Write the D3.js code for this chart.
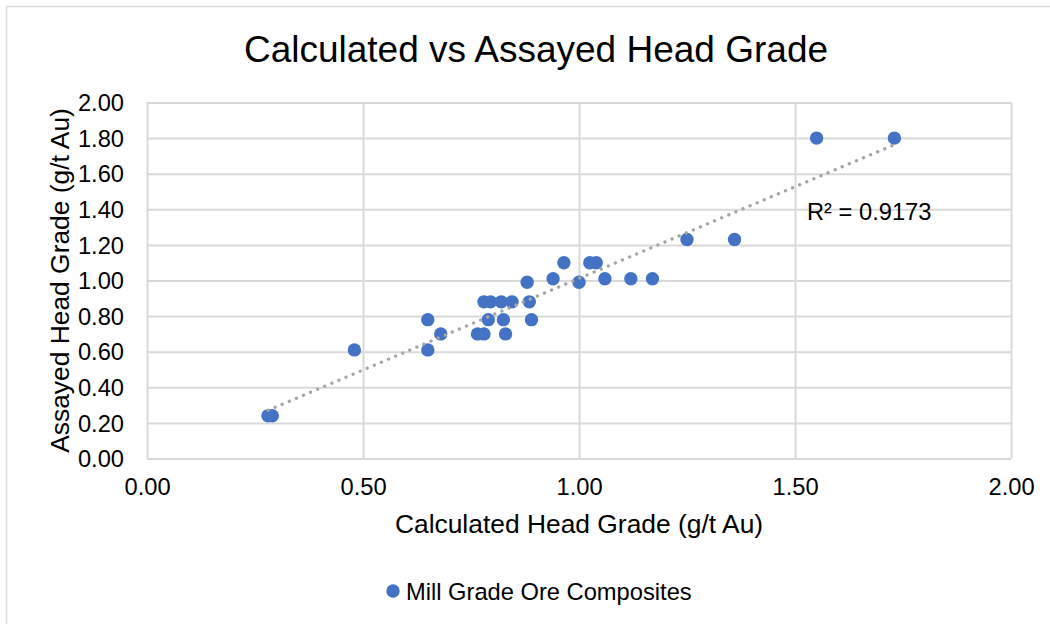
<!DOCTYPE html>
<html>
<head>
<meta charset="utf-8">
<script src="https://cdn.jsdelivr.net/npm/d3@7"></script>
<style>
  html, body { margin: 0; padding: 0; background: #fff; }
  svg { display: block; font-family: Arial, "Liberation Sans", sans-serif; }
</style>
</head>
<body>
<svg id="chart" width="1050" height="624"></svg>
<script>
// Mill grade ore composites: calculated vs assayed head grade (g/t Au)
const calculated = [0.28, 0.29, 0.48, 0.65, 0.65, 0.68, 0.765, 0.78, 0.83, 0.78,
                    0.795, 0.82, 0.845, 0.885, 0.79, 0.825, 0.89, 0.88, 0.94, 0.965,
                    1.00, 1.025, 1.04, 1.06, 1.12, 1.17, 1.25, 1.36, 1.55, 1.73];
const assayed    = [0.24, 0.24, 0.61, 0.78, 0.61, 0.70, 0.70, 0.70, 0.70, 0.88,
                    0.88, 0.88, 0.88, 0.88, 0.78, 0.78, 0.78, 0.99, 1.01, 1.10,
                    0.99, 1.10, 1.10, 1.01, 1.01, 1.01, 1.23, 1.23, 1.80, 1.80];
const xTicks = [0, 0.5, 1.0, 1.5, 2.0];
const yTicks = [0, 0.2, 0.4, 0.6, 0.8, 1.0, 1.2, 1.4, 1.6, 1.8, 2.0];
const seriesName = "Mill Grade Ore Composites";
const rSquaredLabel = "R² = 0.9173";

const svg = d3.select("#chart");
const blue = "#4472C4";
const grid = "#d9d9d9";
const fmt = d3.format(".2f");

// plot area
const plotL = 147, plotR = 1011, plotT = 102.5, plotB = 458.5;
const x = d3.scaleLinear().domain([0, 2]).range([plotL, plotR]);
const y = d3.scaleLinear().domain([0, 2]).range([plotB, plotT]);

// chart frame
svg.append("rect")
  .attr("x", 6.5).attr("y", 6.5).attr("width", 1100).attr("height", 700)
  .attr("fill", "none").attr("stroke", grid).attr("stroke-width", 1.5);

// title
svg.append("text")
  .attr("x", 536).attr("y", 62)
  .attr("text-anchor", "middle")
  .attr("font-size", 37).attr("fill", "#000")
  .text("Calculated vs Assayed Head Grade");

// gridlines via axes
const gx = svg.append("g").attr("transform", `translate(0,${plotB})`)
  .call(d3.axisBottom(x).tickValues(xTicks).tickSize(-(plotB - plotT)).tickFormat(fmt));
const gy = svg.append("g").attr("transform", `translate(${plotL},0)`)
  .call(d3.axisLeft(y).tickValues(yTicks).tickSize(-(plotR - plotL)).tickFormat(fmt));

[gx, gy].forEach(g => {
  g.select(".domain").remove();
  g.selectAll(".tick line").attr("stroke", grid).attr("stroke-width", 2);
  g.selectAll(".tick text")
    .attr("font-size", 23.7).attr("fill", "#000")
    .attr("font-family", "Arial, 'Liberation Sans', sans-serif");
});
gx.selectAll(".tick text").attr("y", 20).attr("dy", "0.71em");
gy.selectAll(".tick text").attr("x", -23).attr("dy", "0.35em");

// axis titles
svg.append("text")
  .attr("x", (plotL + plotR) / 2).attr("y", 533)
  .attr("text-anchor", "middle")
  .attr("font-size", 26.4).attr("fill", "#000")
  .text("Calculated Head Grade (g/t Au)");

svg.append("text")
  .attr("transform", `translate(69,${(plotT + plotB) / 2}) rotate(-90)`)
  .attr("text-anchor", "middle")
  .attr("font-size", 26.4).attr("fill", "#000")
  .text("Assayed Head Grade (g/t Au)");

// points
const pts = calculated.map((c, i) => ({ c, a: assayed[i] }));
svg.append("g").selectAll("circle")
  .data(pts).join("circle")
  .attr("cx", d => x(d.c)).attr("cy", d => y(d.a))
  .attr("r", 6.7).attr("fill", blue);

// linear trendline (least squares)
const mx = d3.mean(calculated), my = d3.mean(assayed);
const sxy = d3.sum(pts, d => (d.c - mx) * (d.a - my));
const sxx = d3.sum(pts, d => (d.c - mx) ** 2);
const slope = sxy / sxx, intercept = my - slope * mx;
const [x0, x1] = d3.extent(calculated);
svg.append("line")
  .attr("x1", x(x0)).attr("y1", y(intercept + slope * x0))
  .attr("x2", x(x1)).attr("y2", y(intercept + slope * x1))
  .attr("stroke", "#a5a5a5").attr("stroke-width", 3.3)
  .attr("stroke-linecap", "round").attr("stroke-dasharray", "0.1 7.6");

// R² label
svg.append("text")
  .attr("x", 807).attr("y", 220)
  .attr("font-size", 23.7).attr("fill", "#000")
  .text(rSquaredLabel);

// legend
svg.append("circle").attr("cx", 393).attr("cy", 591).attr("r", 6.7).attr("fill", blue);
svg.append("text")
  .attr("x", 406).attr("y", 599.5)
  .attr("font-size", 23.7).attr("fill", "#000")
  .text(seriesName);
</script>
</body>
</html>
